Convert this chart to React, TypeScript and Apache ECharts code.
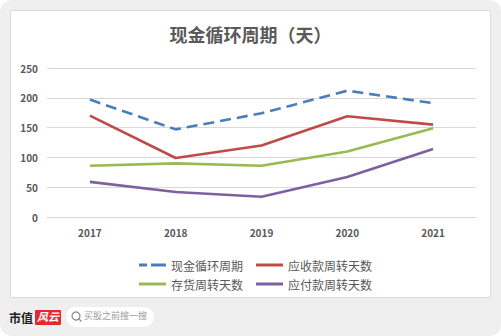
import React, { useEffect, useRef } from "react";
import * as echarts from "echarts";

const years = ["2017", "2018", "2019", "2020", "2021"];
const cashCycle = [197, 147, 174, 212, 191];
const receivableDays = [170, 99, 120, 169, 155];
const inventoryDays = [86, 90, 86, 110, 149];
const payableDays = [59, 42, 34, 67, 114];
const seriesNames = ["现金循环周期", "应收款周转天数", "存货周转天数", "应付款周转天数"];
const titleText = "现金循环周期（天）";

const W = 501;
const H = 336;

export default function App() {
  const ref = useRef<HTMLDivElement>(null);
  useEffect(() => {
    if (!ref.current) return;
    const chart = echarts.init(ref.current, null, { renderer: "svg", width: W, height: H });
    const font = "'Noto Sans CJK SC', 'Noto Sans', sans-serif";
    const dashIcon = "path://M0,0h8v3h-8z M12,0h15v3h-15z";
    const solidIcon = "path://M0,0h27v3h-27z";
    const lineSeries = (name: string, data: number[], color: string, dashed = false) => ({
      name,
      type: "line",
      data,
      symbol: "none",
      showSymbol: false,
      lineStyle: { color, width: 2.6, type: dashed ? [11, 6] : "solid", cap: "butt" },
      itemStyle: { color },
      z: 5,
    });
    const legendBase = {
      left: 134,
      itemWidth: 27,
      itemHeight: 3,
      itemGap: 13,
      textStyle: { color: "#595959", fontFamily: font, fontSize: 12 },
    };
    chart.setOption({
      animation: false,
      backgroundColor: "transparent",
      title: {
        text: titleText,
        left: "center",
        top: 20,
        textStyle: { fontFamily: font, fontSize: 18, fontWeight: "bold", color: "#5a5a5a" },
      },
      grid: { left: 47, right: 25, top: 68, bottom: 119, containLabel: false },
      xAxis: {
        type: "category",
        data: years,
        boundaryGap: true,
        axisLine: { show: true, lineStyle: { color: "#d9d9d9", width: 1 } },
        axisTick: { show: false },
        axisLabel: { color: "#595959", fontFamily: font, fontSize: 10, fontWeight: "bold", margin: 10 },
      },
      yAxis: {
        type: "value",
        min: 0,
        max: 250,
        interval: 50,
        axisLine: { show: false },
        axisTick: { show: false },
        splitLine: { lineStyle: { color: "#d9d9d9", width: 1 } },
        axisLabel: { color: "#595959", fontFamily: font, fontSize: 10, fontWeight: "bold", margin: 9 },
      },
      legend: [
        {
          ...legendBase,
          top: 254,
          data: [
            { name: seriesNames[0], icon: dashIcon },
            { name: seriesNames[1], icon: solidIcon },
          ],
        },
        {
          ...legendBase,
          top: 273,
          data: [
            { name: seriesNames[2], icon: solidIcon },
            { name: seriesNames[3], icon: solidIcon },
          ],
        },
      ],
      series: [
        lineSeries(seriesNames[0], cashCycle, "#4a7ebb", true),
        lineSeries(seriesNames[1], receivableDays, "#be4b48"),
        lineSeries(seriesNames[2], inventoryDays, "#98b954"),
        lineSeries(seriesNames[3], payableDays, "#7d60a0"),
      ],
      graphic: [
        {
          type: "rect",
          silent: true,
          z: -10,
          shape: { x: 0, y: 0, width: W, height: H, r: 12 },
          style: { fill: "#efefef" },
        },
        {
          type: "rect",
          silent: true,
          z: -9,
          shape: { x: 10.5, y: 10.5, width: 480, height: 287 },
          style: { fill: "#ffffff", stroke: "#dadada", lineWidth: 1 },
        },
        {
          type: "text",
          silent: true,
          z: 10,
          style: { x: 9, y: 311, text: "市值", fill: "#222", font: "bold 12px 'Noto Sans CJK SC'" },
        },
        {
          type: "rect",
          silent: true,
          z: 10,
          shape: { x: 35, y: 310, width: 26, height: 15, r: 1 },
          style: { fill: "#e8262d" },
        },
        {
          type: "text",
          silent: true,
          z: 11,
          style: { x: 37, y: 311, text: "风云", fill: "#fff", font: "italic bold 11px 'Noto Sans CJK SC'" },
        },
        {
          type: "rect",
          silent: true,
          z: 10,
          shape: { x: 66, y: 307, width: 88, height: 20, r: 10 },
          style: { fill: "#ffffff" },
        },
        {
          type: "circle",
          silent: true,
          z: 11,
          shape: { cx: 76, cy: 316, r: 4 },
          style: { fill: "none", stroke: "#888", lineWidth: 1.2 },
        },
        {
          type: "line",
          silent: true,
          z: 11,
          shape: { x1: 79, y1: 319, x2: 81.5, y2: 321.5 },
          style: { stroke: "#888", lineWidth: 1.3 },
        },
        {
          type: "text",
          silent: true,
          z: 11,
          style: { x: 84, y: 311, text: "买股之前搜一搜", fill: "#9a9a9a", font: "9px 'Noto Sans CJK SC'" },
        },
      ],
    });
    return () => chart.dispose();
  }, []);
  return (
    <div
      ref={ref}
      style={{ position: "fixed", left: 0, top: 0, width: W, height: H, background: "#ffffff" }}
    />
  );
}
